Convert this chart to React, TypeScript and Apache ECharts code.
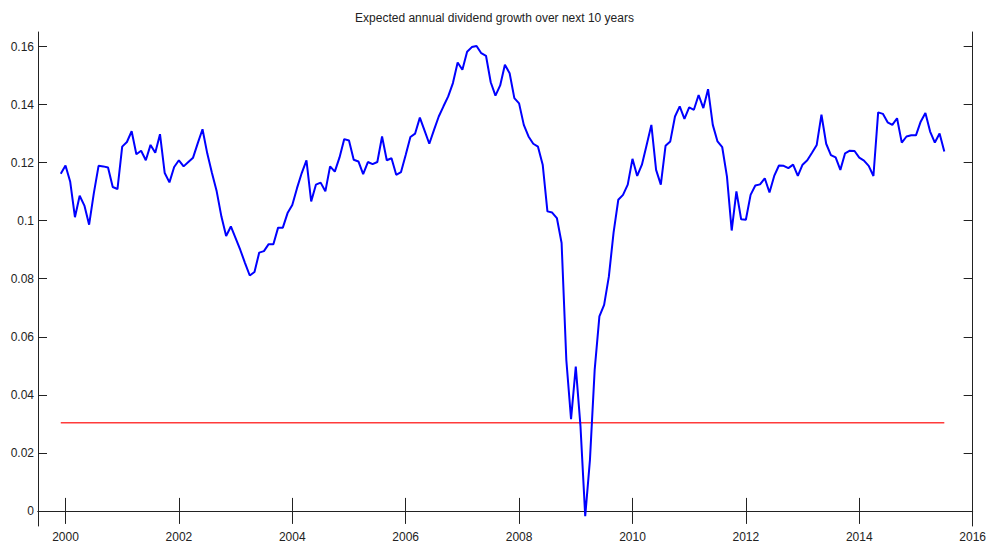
import React, { useEffect, useRef } from "react";
import * as echarts from "echarts";

const titleText = "Expected annual dividend growth over next 10 years";
// monthly series, first point December 1999
const startYear = 1999;
const startMonth = 12;
const growth = [
  0.1162, 0.119, 0.1134, 0.1012, 0.1086, 0.1052, 0.0986, 0.1095, 0.1189, 0.1187,
  0.1183, 0.1116, 0.1109, 0.1255, 0.1271, 0.1308, 0.1229, 0.1241, 0.1208, 0.1261,
  0.1234, 0.1298, 0.1164, 0.1132, 0.1185, 0.1208, 0.1187, 0.1202, 0.1217, 0.1267,
  0.1315, 0.1232, 0.1164, 0.1101, 0.1014, 0.0947, 0.098, 0.094, 0.0899, 0.0854,
  0.0811, 0.0823, 0.089, 0.0895, 0.0919, 0.0919, 0.0976, 0.0976, 0.1026, 0.1054,
  0.1112, 0.1164, 0.1208, 0.1066, 0.1124, 0.1131, 0.1101, 0.1187, 0.1169, 0.1218,
  0.1281, 0.1276, 0.121, 0.1204, 0.116, 0.1202, 0.1195, 0.1202, 0.129, 0.1208,
  0.1215, 0.1158, 0.1167, 0.1226, 0.1288, 0.13, 0.1355, 0.131, 0.1265, 0.1313,
  0.1359, 0.1394, 0.1428, 0.1474, 0.1545, 0.152, 0.1582, 0.1598, 0.1602, 0.1577,
  0.1568, 0.1477, 0.1431, 0.1466, 0.1537, 0.1508, 0.1422, 0.1404, 0.133, 0.129,
  0.1265, 0.1255, 0.1193, 0.1032, 0.1028, 0.1009, 0.0923, 0.052, 0.0316, 0.0497,
  0.0291, -0.0018, 0.0176, 0.0486, 0.067, 0.071, 0.0807, 0.0959, 0.1072, 0.1089,
  0.1124, 0.1213, 0.1154, 0.1193, 0.1261, 0.133, 0.1175, 0.1124, 0.1258, 0.1273,
  0.1359, 0.1394, 0.1351, 0.139, 0.1382, 0.1433, 0.1388, 0.1453, 0.133, 0.1273,
  0.1253, 0.1152, 0.0966, 0.1101, 0.1005, 0.1003, 0.1089, 0.1121, 0.1125, 0.1146,
  0.1097, 0.1154, 0.119, 0.1189, 0.1181, 0.1193, 0.1154, 0.1193, 0.1208, 0.1234,
  0.1261, 0.1365, 0.1265, 0.1226, 0.1218, 0.1175, 0.1232, 0.1241, 0.124, 0.1217,
  0.1207, 0.1189, 0.1154, 0.1373, 0.1368, 0.1339, 0.133, 0.1353, 0.1269, 0.129,
  0.1294, 0.1294, 0.1341, 0.1371, 0.1307, 0.1269, 0.13, 0.1238,
];
const benchmark = 0.0304;
const xTicks = [2000, 2002, 2004, 2006, 2008, 2010, 2012, 2014, 2016];
const yTicks = [0, 0.02, 0.04, 0.06, 0.08, 0.1, 0.12, 0.14, 0.16];

const FONT = "'Liberation Sans', Arial, sans-serif";

export default function App() {
  const ref = useRef<HTMLDivElement>(null);
  useEffect(() => {
    if (!ref.current) return;
    const chart = echarts.init(ref.current, null, { renderer: "svg" });
    const t0 = startYear + (startMonth - 1) / 12;
    const growthData = growth.map((v, i) => [t0 + i / 12, v]);
    const tEnd = t0 + (growth.length - 1) / 12;
    const benchData = [
      [t0, benchmark],
      [tEnd, benchmark],
    ];
    const xMin = 1999.515;
    const xMax = 2016;
    const yMin = -0.0052;
    const yMax = 0.165;
    const axisLine = { show: true, lineStyle: { color: "#222", width: 1 } };
    chart.setOption({
      animation: false,
      backgroundColor: "#fff",
      title: {
        text: titleText,
        left: "center",
        top: 7,
        textStyle: { fontFamily: FONT, fontSize: 12, fontWeight: "normal", color: "#222" },
      },
      grid: { left: 38, top: 32, width: 937, height: 494, containLabel: false },
      xAxis: [
        {
          type: "value",
          min: xMin,
          max: xMax,
          axisLine,
          splitLine: { show: false },
          axisTick: { inside: true, length: 13, customValues: xTicks, lineStyle: { color: "#222" } },
          axisLabel: {
            customValues: xTicks,
            formatter: (v: number) => String(Math.round(v)),
            fontFamily: FONT,
            fontSize: 12,
            color: "#222",
            margin: 5,
            showMinLabel: true,
            showMaxLabel: true,
          },
        },
        {
          type: "value",
          position: "top",
          min: xMin,
          max: xMax,
          axisLine,
          splitLine: { show: false },
          axisTick: { inside: true, length: 13, customValues: xTicks, lineStyle: { color: "#222" } },
          axisLabel: { show: false },
        },
      ],
      yAxis: [
        {
          type: "value",
          min: yMin,
          max: yMax,
          axisLine,
          splitLine: { show: false },
          axisTick: { inside: true, length: 9, customValues: yTicks, lineStyle: { color: "#222" } },
          axisLabel: {
            customValues: yTicks,
            formatter: (v: number) => String(+v.toFixed(2)),
            fontFamily: FONT,
            fontSize: 12,
            color: "#222",
            margin: 4,
          },
        },
        {
          type: "value",
          position: "right",
          min: yMin,
          max: yMax,
          axisLine,
          splitLine: { show: false },
          axisTick: { inside: true, length: 9, customValues: yTicks, lineStyle: { color: "#222" } },
          axisLabel: { show: false },
        },
      ],
      series: [
        {
          type: "line",
          data: growthData,
          symbol: "none",
          lineStyle: { color: "#0000ff", width: 2 },
          xAxisIndex: 0,
          yAxisIndex: 0,
          z: 3,
        },
        {
          type: "line",
          data: benchData,
          symbol: "none",
          lineStyle: { color: "#ff3b3b", width: 1.5 },
          xAxisIndex: 0,
          yAxisIndex: 0,
          z: 2,
        },
      ],
    });
    return () => chart.dispose();
  }, []);
  return (
    <div
      ref={ref}
      style={{ position: "fixed", left: 0, top: 0, width: 989, height: 548, background: "#fff" }}
    />
  );
}
